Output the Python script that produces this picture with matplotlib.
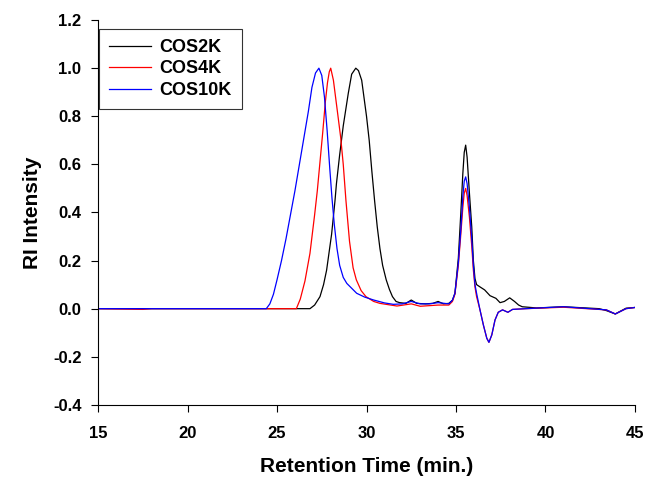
import numpy as np
import matplotlib
matplotlib.use("Agg")
import matplotlib.pyplot as plt
import matplotlib.ticker as mtick

# values (retention time in min, RI intensity)
t_2k = [15, 20, 25, 26.84, 27.1, 27.4, 27.6, 27.77, 28.05, 28.24, 28.32, 28.5, 28.7,
        28.98, 29.17, 29.4, 29.55, 29.73, 30.0, 30.15, 30.3, 30.45, 30.6, 30.75, 30.9, 31.1,
        31.28, 31.45, 31.65, 31.85, 32.2, 32.5, 32.8, 33.3, 33.7, 34.0, 34.3, 34.6, 34.8,
        34.94, 35.13, 35.27, 35.38, 35.46, 35.54, 35.62, 35.75, 35.88, 35.97, 36.06,
        36.15, 36.35, 36.6, 36.9, 37.23, 37.46, 37.7, 38.0, 38.27, 38.5, 38.7, 39.5,
        41.0, 42.0, 43.0, 43.4, 43.9, 44.2, 44.5, 45]
i_2k = [0, 0, 0, 0, 0.015, 0.05, 0.10, 0.16, 0.31, 0.45, 0.52, 0.64, 0.76,
        0.895, 0.975, 1.0, 0.99, 0.95, 0.80, 0.70, 0.57, 0.45, 0.34, 0.25, 0.18, 0.12,
        0.08, 0.05, 0.03, 0.025, 0.022, 0.036, 0.022, 0.02, 0.022, 0.03, 0.02, 0.022, 0.035,
        0.064, 0.21, 0.40, 0.56, 0.65, 0.68, 0.63, 0.48, 0.34, 0.20, 0.125,
        0.10, 0.09, 0.078, 0.054, 0.043, 0.025, 0.03, 0.045, 0.03, 0.015, 0.008, 0.003,
        0.008, 0.004, 0.0, -0.008, -0.022, -0.01, 0.002, 0.005]

t_4k = [15, 17.5, 18, 25, 26.08, 26.3, 26.56, 26.84, 27.1, 27.25, 27.4, 27.55, 27.7,
        27.82, 27.92, 28.0, 28.15, 28.39, 28.56, 28.7, 28.85, 29.05, 29.25, 29.43, 29.7,
        29.97, 30.4, 30.75, 31.7, 32.5, 33.0, 34.0, 34.6, 34.8, 34.94, 35.13, 35.27,
        35.38, 35.46, 35.54, 35.62, 35.75, 35.88, 35.97, 36.06, 36.15, 36.34, 36.53,
        36.72, 36.84, 37.0, 37.18, 37.36, 37.6, 37.9, 38.16, 38.9, 41.0, 43.4, 43.9,
        44.5, 45]
i_4k = [0, -0.003, 0, 0, 0, 0.04, 0.115, 0.23, 0.39, 0.49, 0.61, 0.73, 0.86,
        0.94, 0.985, 1.0, 0.95, 0.81, 0.71, 0.60, 0.45, 0.28, 0.17, 0.12, 0.075,
        0.05, 0.03, 0.022, 0.011, 0.02, 0.01, 0.015, 0.015, 0.03, 0.06, 0.18, 0.31,
        0.42, 0.48, 0.50, 0.47, 0.38, 0.26, 0.16, 0.09, 0.05, -0.005, -0.068,
        -0.123, -0.14, -0.109, -0.047, -0.015, -0.005, -0.015, -0.003, 0.0, 0.006, -0.005, -0.022,
        0.0, 0.005]

t_10k = [15, 20, 24.4, 24.6, 24.8, 25.0, 25.25, 25.5, 25.75, 26.0, 26.25, 26.5, 26.75,
         26.95, 27.15, 27.34, 27.5, 27.65, 27.8, 27.95, 28.07, 28.2, 28.35, 28.5, 28.7,
         28.9, 29.45, 29.9, 30.4, 31.0, 31.5, 32.0, 32.5, 33.0, 33.5, 34.0, 34.6, 34.8,
         34.94, 35.13, 35.27, 35.38, 35.46, 35.54, 35.62, 35.75, 35.88, 35.97, 36.06,
         36.15, 36.34, 36.53, 36.72, 36.84, 37.0, 37.18, 37.36, 37.6, 37.9, 38.16, 38.9,
         41.0, 43.4, 43.9, 44.5, 45]
i_10k = [0, 0, 0, 0.02, 0.06, 0.12, 0.20, 0.29, 0.39, 0.49, 0.60, 0.71, 0.82,
         0.92, 0.98, 1.0, 0.97, 0.88, 0.74, 0.58, 0.46, 0.35, 0.25, 0.18, 0.13,
         0.105, 0.064, 0.048, 0.036, 0.024, 0.018, 0.02, 0.03, 0.02, 0.02, 0.025, 0.02, 0.035,
         0.064, 0.19, 0.33, 0.465, 0.53, 0.548, 0.52, 0.42, 0.29, 0.18, 0.10,
         0.064, -0.005, -0.068, -0.123, -0.14, -0.109, -0.047, -0.015, -0.005, -0.015, -0.003, 0.0,
         0.008, -0.005, -0.022, 0.0, 0.005]

labels = ["COS2K", "COS4K", "COS10K"]
colors = ["black", "red", "blue"]

plt.rcParams['font.family'] = ['Liberation Sans', 'DejaVu Sans']
plt.rcParams['font.weight'] = 'bold'

fig = plt.figure(figsize=(6.67, 4.78), dpi=100)
ax = fig.add_axes([0.147, 0.153, 0.805, 0.805])

for t, y, lab, c in zip([t_2k, t_4k, t_10k], [i_2k, i_4k, i_10k], labels, colors):
    ax.plot(t, y, color=c, lw=0.9, label=lab)

ax.set_xlim(15, 45)
ax.set_ylim(-0.4, 1.2)
ax.set_xticks(np.arange(15, 46, 5))
ax.set_yticks(np.arange(-0.4, 1.21, 0.2))
ax.yaxis.set_major_formatter(mtick.FormatStrFormatter('%.1f'))
ax.spines['top'].set_visible(False)
ax.spines['right'].set_visible(False)
ax.tick_params(direction='out', length=5, labelsize=12)
ax.tick_params(axis='x', pad=10)
ax.tick_params(axis='y', pad=7)
for lbl in ax.get_xticklabels() + ax.get_yticklabels():
    lbl.set_fontweight('bold')

ax.set_xlabel("Retention Time (min.)", fontsize=15, fontweight='bold', labelpad=12)
ax.set_ylabel("RI Intensity", fontsize=15, fontweight='bold', labelpad=8)

leg = ax.legend(loc='upper left', bbox_to_anchor=(0.002, 0.977), frameon=True,
                fancybox=False, edgecolor='black', fontsize=13, handlelength=2.3,
                handletextpad=0.5, borderpad=0.55, labelspacing=0.25,
                borderaxespad=0.0)
leg.get_frame().set_linewidth(0.8)
for txt in leg.get_texts():
    txt.set_fontweight('bold')

fig.savefig("out.png", dpi=100)
